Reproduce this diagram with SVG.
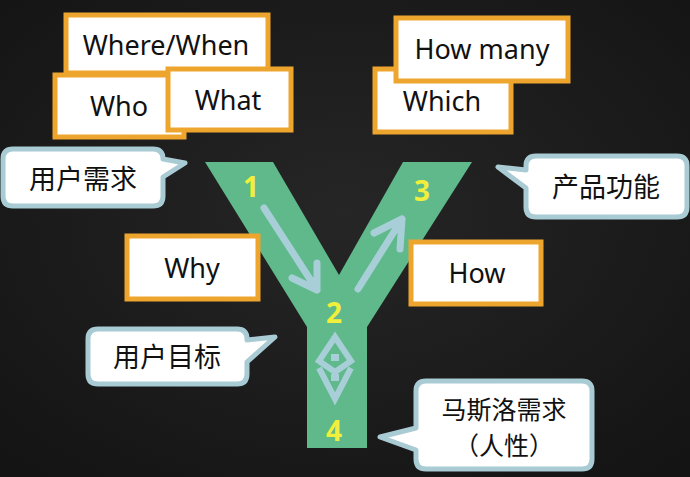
<svg xmlns="http://www.w3.org/2000/svg" width="690" height="477" viewBox="0 0 690 477">
<defs>
<radialGradient id="bg" cx="50%" cy="45%" r="70%">
<stop offset="0" stop-color="#262626"/>
<stop offset="1" stop-color="#141414"/>
</radialGradient>
<style>
.box{fill:#fff;stroke:#eea52e;stroke-width:5}
.call{fill:#fff;stroke:#a9cbd4;stroke-width:5;stroke-linejoin:round}
.en{font-family:"Noto Sans","Open Sans",sans-serif;font-size:27px;fill:#111;text-anchor:middle}
.cn{font-family:"Noto Sans CJK SC","Noto Sans",sans-serif;font-size:27px;fill:#111;text-anchor:middle}
.cn2{font-family:"Noto Sans CJK SC","Noto Sans",sans-serif;font-size:25px;fill:#111;text-anchor:middle}
.num{font-family:"Noto Sans","Liberation Sans",sans-serif;font-size:28px;font-weight:bold;fill:#f2ef3c;text-anchor:middle}
.arr{fill:none;stroke:#a8cfd8;stroke-width:7;stroke-linecap:round;stroke-linejoin:round}
.sym{fill:none;stroke:#a8cfd8;stroke-width:6;stroke-linejoin:miter}
</style>
</defs>
<rect width="690" height="477" fill="url(#bg)"/>

<g id="y-shape">
<path d="M205,162 L273,162 L339,275 L403,162 L472,162 L367,327 L367,448 L307,448 L307,327 Z" fill="#5fb98b"/>
<text class="num" x="251" y="197">1</text>
<text class="num" x="422" y="201">3</text>
<text class="num" x="334" y="323">2</text>
<text class="num" x="334" y="441">4</text>
<g id="symbol">
<path class="sym" d="M335,337 L351,361 L335,372 L319,361 Z"/>
<path class="sym" d="M319,368 L335,399 L351,368"/>
<rect x="331" y="354" width="8" height="7" fill="#a8cfd8"/>
<rect x="331" y="374" width="8" height="7" fill="#a8cfd8"/>
</g>
</g>

<g id="connectors">
<path class="arr" d="M264,208 L317,290 M292,278 L317,290 L317,263"/>
<path class="arr" d="M358,289 L402,219 M374,233 L402,219 L400,249"/>
</g>

<g id="where-when">
<rect class="box" x="66" y="15" width="202" height="58"/>
<text class="en" x="166" y="55">Where/When</text>
</g>
<g id="who">
<rect class="box" x="55" y="75" width="129" height="62"/>
<text class="en" x="119" y="116">Who</text>
</g>
<g id="what">
<rect class="box" x="168" y="69" width="123" height="61"/>
<text class="en" x="228" y="110">What</text>
</g>
<g id="which">
<rect class="box" x="375" y="69" width="136" height="63"/>
<text class="en" x="442" y="111">Which</text>
</g>
<g id="how-many">
<rect class="box" x="396" y="18" width="172" height="63"/>
<text class="en" x="482" y="59">How many</text>
</g>
<g id="why">
<rect class="box" x="127" y="236" width="131" height="63"/>
<text class="en" x="192" y="278">Why</text>
</g>
<g id="how">
<rect class="box" x="411" y="242" width="130" height="62"/>
<text class="en" x="477" y="283">How</text>
</g>

<g id="user-need">
<path class="call" d="M13,149 H153 Q163,149 163,159 L185,163 L163,177 V196 Q163,206 153,206 H13 Q3,206 3,196 V159 Q3,149 13,149 Z"/>
<text class="cn" x="83" y="189">用户需求</text>
</g>
<g id="product-feature">
<path class="call" d="M536,156 H677 Q687,156 687,166 V207 Q687,217 677,217 H536 Q526,217 526,207 V188 L498,167 L526,170 V166 Q526,156 536,156 Z"/>
<text class="cn" x="606" y="197">产品功能</text>
</g>
<g id="user-goal">
<path class="call" d="M98,329 H237 Q247,329 247,339 V340 L275,337 L247,362 V374 Q247,384 237,384 H98 Q88,384 88,374 V339 Q88,329 98,329 Z"/>
<text class="cn" x="167" y="367">用户目标</text>
</g>
<g id="maslow">
<path class="call" d="M426,381 H582 Q592,381 592,391 V459 Q592,469 582,469 H426 Q416,469 416,459 V450 L380,437 L416,428 V391 Q416,381 426,381 Z"/>
<text class="cn2" x="504" y="419">马斯洛需求</text>
<text class="cn2" x="504" y="455">（人性）</text>
</g>
</svg>
